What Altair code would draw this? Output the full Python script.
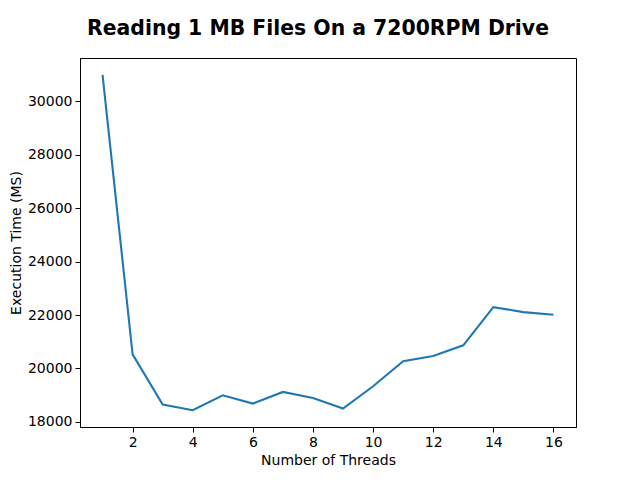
import altair as alt
import pandas as pd

threads = list(range(1, 17))
times = [31000, 20527, 18646, 18433, 18994, 18683, 19118, 18893, 18497,
         19330, 20266, 20464, 20864, 22296, 22109, 22012]

df = pd.DataFrame({"threads": threads, "time": times})

font = "DejaVu Sans"

chart = alt.Chart(df).mark_line(color="#1f77b4", strokeWidth=2.1).encode(
    x=alt.X("threads:Q", title="Number of Threads",
            scale=alt.Scale(domain=[0.25, 16.75], nice=False, zero=False),
            axis=alt.Axis(values=[2, 4, 6, 8, 10, 12, 14, 16], format="d")),
    y=alt.Y("time:Q", title="Execution Time (MS)",
            scale=alt.Scale(domain=[17805, 31628], nice=False, zero=False),
            axis=alt.Axis(values=[18000, 20000, 22000, 24000, 26000, 28000, 30000], format="d")),
).properties(
    width=496, height=369,
    autosize=alt.AutoSizeParams(type="none"),
    padding={"left": 72, "top": 50, "right": 56, "bottom": 45},
    title=alt.TitleParams("Reading 1 MB Files On a 7200RPM Drive", font=font,
                          fontSize=20.4, fontWeight="bold", color="black",
                          anchor="middle", dx=-10, offset=19),
).configure_view(
    stroke="black", strokeWidth=1
).configure_axis(
    grid=False, domainColor="black", domainWidth=1, tickColor="black",
    tickSize=5, tickWidth=1, labelFont=font, labelFontSize=14, labelColor="black",
    titleFont=font, titleFontSize=14, titleFontWeight="normal", titleColor="black",
    labelPadding=3, labelFlush=False
).configure_axisX(titlePadding=4).configure_axisY(titlePadding=4)

chart.save("out.html", embed_options={"renderer": "svg", "actions": False})
